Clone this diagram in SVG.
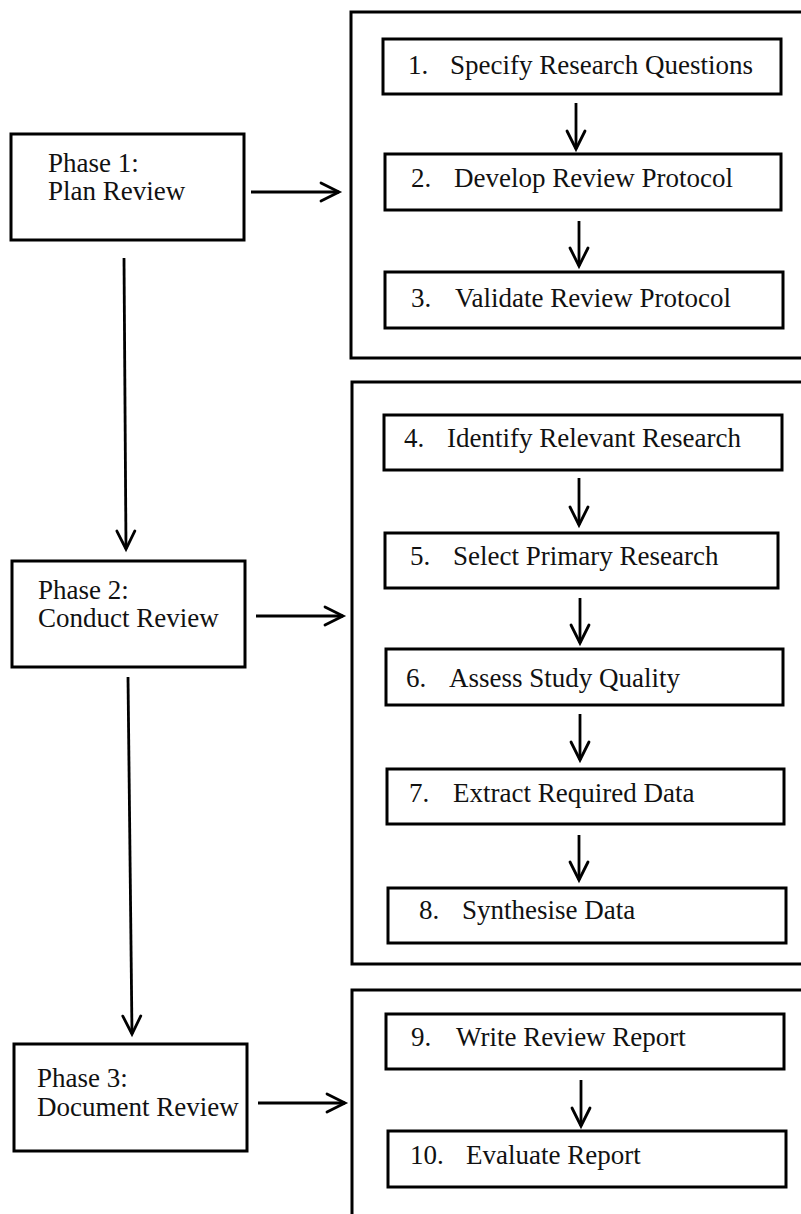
<svg xmlns="http://www.w3.org/2000/svg" width="801" height="1214" viewBox="0 0 801 1214">
  <defs>
    <style>
      .box { fill: #ffffff; stroke: #000000; stroke-width: 3; }
      .frame { fill: none; stroke: #000000; stroke-width: 3; }
      .lbl { font-family: "Liberation Serif", "Times New Roman", serif; font-size: 27px; fill: #111111; }
      .conn { fill: none; stroke: #000000; stroke-width: 2.8; marker-end: url(#chev); }
    </style>
    <marker id="chev" markerUnits="userSpaceOnUse" markerWidth="40" markerHeight="40" refX="0" refY="0" orient="auto" overflow="visible">
      <path d="M-18,-9 L0,0 L-18,9" fill="none" stroke="#000000" stroke-width="2.8" stroke-linecap="round" stroke-linejoin="miter"/>
    </marker>
  </defs>

  <rect width="801" height="1214" fill="#ffffff"/>

  <!-- phase frames (open on the right / bottom edge) -->
  <g id="frames">
    <rect id="frame-plan" class="frame" x="351" y="12" width="470" height="346"/>
    <rect id="frame-conduct" class="frame" x="352" y="382" width="470" height="582"/>
    <rect id="frame-document" class="frame" x="352" y="990" width="470" height="240"/>
  </g>

  <!-- connectors -->
  <g id="connectors">
    <line class="conn" x1="124" y1="258" x2="126" y2="549"/>
    <line class="conn" x1="128" y1="677" x2="132" y2="1034"/>
    <line class="conn" x1="251" y1="192" x2="339" y2="192"/>
    <line class="conn" x1="256" y1="616" x2="343" y2="616"/>
    <line class="conn" x1="258" y1="1103" x2="345" y2="1103"/>
    <line class="conn" x1="576" y1="103" x2="576" y2="149"/>
    <line class="conn" x1="579" y1="221" x2="579" y2="266"/>
    <line class="conn" x1="579" y1="478" x2="579" y2="525"/>
    <line class="conn" x1="580" y1="598" x2="580" y2="643"/>
    <line class="conn" x1="580" y1="714" x2="580" y2="760"/>
    <line class="conn" x1="579" y1="835" x2="579" y2="880"/>
    <line class="conn" x1="581" y1="1080" x2="581" y2="1126"/>
  </g>

  <!-- phase nodes -->
  <g id="phase1">
    <rect class="box" x="11" y="134" width="233" height="106"/>
    <text class="lbl" x="48" y="172">Phase 1:</text>
    <text class="lbl" x="48" y="200">Plan Review</text>
  </g>
  <g id="phase2">
    <rect class="box" x="12" y="561" width="233" height="106"/>
    <text class="lbl" x="38" y="599">Phase 2:</text>
    <text class="lbl" x="38" y="627">Conduct Review</text>
  </g>
  <g id="phase3">
    <rect class="box" x="14" y="1044" width="233" height="107"/>
    <text class="lbl" x="37" y="1087">Phase 3:</text>
    <text class="lbl" x="37" y="1116">Document Review</text>
  </g>

  <!-- step nodes -->
  <g id="step1">
    <rect class="box" x="383" y="39" width="398" height="55"/>
    <text class="lbl" y="74"><tspan x="408">1.</tspan><tspan x="450">Specify Research Questions</tspan></text>
  </g>
  <g id="step2">
    <rect class="box" x="385" y="154" width="396" height="56"/>
    <text class="lbl" y="187"><tspan x="411">2.</tspan><tspan x="454">Develop Review Protocol</tspan></text>
  </g>
  <g id="step3">
    <rect class="box" x="385" y="272" width="398" height="56"/>
    <text class="lbl" y="307"><tspan x="411">3.</tspan><tspan x="455">Validate Review Protocol</tspan></text>
  </g>
  <g id="step4">
    <rect class="box" x="384" y="415" width="398" height="55"/>
    <text class="lbl" y="447"><tspan x="404">4.</tspan><tspan x="447">Identify Relevant Research</tspan></text>
  </g>
  <g id="step5">
    <rect class="box" x="385" y="533" width="393" height="55"/>
    <text class="lbl" y="565"><tspan x="410">5.</tspan><tspan x="453">Select Primary Research</tspan></text>
  </g>
  <g id="step6">
    <rect class="box" x="386" y="649" width="397" height="56"/>
    <text class="lbl" y="687"><tspan x="406">6.</tspan><tspan x="449">Assess Study Quality</tspan></text>
  </g>
  <g id="step7">
    <rect class="box" x="387" y="769" width="397" height="55"/>
    <text class="lbl" y="802"><tspan x="409">7.</tspan><tspan x="453">Extract Required Data</tspan></text>
  </g>
  <g id="step8">
    <rect class="box" x="388" y="888" width="398" height="55"/>
    <text class="lbl" y="919"><tspan x="419">8.</tspan><tspan x="462">Synthesise Data</tspan></text>
  </g>
  <g id="step9">
    <rect class="box" x="386" y="1014" width="398" height="55"/>
    <text class="lbl" y="1046"><tspan x="411">9.</tspan><tspan x="456">Write Review Report</tspan></text>
  </g>
  <g id="step10">
    <rect class="box" x="388" y="1131" width="398" height="56"/>
    <text class="lbl" y="1164"><tspan x="410">10.</tspan><tspan x="466">Evaluate Report</tspan></text>
  </g>
</svg>
